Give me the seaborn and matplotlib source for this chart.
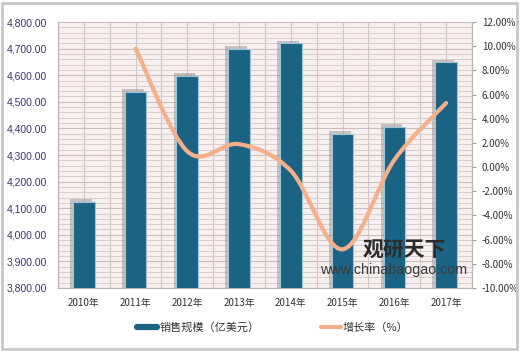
import numpy as np
import pandas as pd
import matplotlib
matplotlib.use("Agg")
import matplotlib.pyplot as plt
import matplotlib.patheffects as pe
from matplotlib.path import Path
from matplotlib.patches import PathPatch, Rectangle
from matplotlib.lines import Line2D
from matplotlib.ticker import MultipleLocator, FuncFormatter
import seaborn as sns

# 数据
years = ["2010年", "2011年", "2012年", "2013年", "2014年", "2015年", "2016年", "2017年"]
sales = [4124, 4538, 4598, 4698, 4720, 4378, 4406, 4648]   # 销售规模（亿美元）
growth_years = years[1:]
growth = [9.8, 1.3, 1.9, -0.3, -6.8, 0.6, 5.3]             # 增长率（%）

bar_color = "#1a6385"
line_color = "#f5b08a"
cjk = ["Noto Sans CJK SC", "DejaVu Sans"]

sns.set_style("white")
plt.rcParams["font.family"] = cjk

fig = plt.figure(figsize=(5.2, 3.51), dpi=100)
ax = fig.add_axes([0.1115, 0.1795, 0.7962, 0.7578])
ax.set_facecolor("#f8efef")

df = pd.DataFrame({"year": years, "sales": sales})
sns.barplot(data=df, x="year", y="sales", color=bar_color, width=0.42,
            edgecolor="#9cc4d6", linewidth=0.8, saturation=1, ax=ax, zorder=3)
for p in ax.patches:
    p.set_path_effects([pe.SimplePatchShadow(offset=(-2, 2), shadow_rgbFace="#8a8a8a", alpha=0.45),
                        pe.Normal()])

ax.set_ylim(3800, 4800)
ax.set_xlim(-0.5, len(years) - 0.5)
ax.yaxis.set_major_locator(MultipleLocator(100))
ax.yaxis.set_minor_locator(MultipleLocator(20))
ax.xaxis.set_minor_locator(MultipleLocator(0.5))
ax.grid(which="major", axis="y", color="#c9bfbf", lw=0.8, zorder=0)
ax.grid(which="minor", axis="y", color="#d6cdcd", lw=0.7, zorder=0)
ax.grid(which="both", axis="x", color="#cfc8c8", lw=0.8, zorder=0)
ax.set_axisbelow(True)
ax.yaxis.set_major_formatter(FuncFormatter(lambda v, _: f"{v:,.2f}"))
ax.tick_params(axis="y", which="both", length=0, pad=37, labelsize=7.5, labelcolor="#38386a")
ax.tick_params(axis="x", which="both", length=0, pad=7, labelsize=7, labelcolor="#333333")
for lab in ax.get_yticklabels():
    lab.set_fontfamily("Liberation Sans")
    lab.set_horizontalalignment("left")
ax.set_xlabel("")
ax.set_ylabel("")
ax.spines["top"].set_visible(False)
for s in ["left", "bottom", "right"]:
    ax.spines[s].set_color("#b5b5b5")
    ax.spines[s].set_linewidth(0.8)

# 增长率 右轴，平滑曲线
ax2 = ax.twinx()
ax2.set_ylim(-10, 12)
ax2.yaxis.set_major_locator(MultipleLocator(2))
ax2.yaxis.set_major_formatter(FuncFormatter(lambda v, _: f"{v:.2f}%"))
ax2.tick_params(axis="y", length=3, width=0.8, color="#999999", pad=4,
                labelsize=7, labelcolor="#333333")
for s in ["top", "left", "bottom"]:
    ax2.spines[s].set_visible(False)
ax2.spines["right"].set_color("#b5b5b5")
ax2.spines["right"].set_linewidth(0.8)
ax2.grid(False)

xs = np.array([years.index(y) for y in growth_years], dtype=float)
ys = np.array(growth, dtype=float)
verts = [(xs[0], ys[0])]
codes = [Path.MOVETO]
n = len(xs)
for i in range(n - 1):
    p0 = np.array([xs[max(i - 1, 0)], ys[max(i - 1, 0)]])
    p1 = np.array([xs[i], ys[i]])
    p2 = np.array([xs[i + 1], ys[i + 1]])
    p3 = np.array([xs[min(i + 2, n - 1)], ys[min(i + 2, n - 1)]])
    c1 = p1 + (p2 - p0) / 6
    c2 = p2 - (p3 - p1) / 6
    verts += [tuple(c1), tuple(c2), tuple(p2)]
    codes += [Path.CURVE4] * 3
ax2.add_patch(PathPatch(Path(verts, codes), facecolor="none", edgecolor=line_color,
                        lw=3, capstyle="round", zorder=5))

# 水印
fig.text(0.698, 0.318, "观研天下", fontsize=15, fontweight="bold", color="#2b2b2b",
         family=cjk, va="top", zorder=10)
fig.text(0.615, 0.252, "www.chinabaogao.com", fontsize=10.3, color="#3a3a3a",
         family=["Liberation Sans"], va="top", zorder=10)

# 图例
handles = [Line2D([], [], color=bar_color, lw=4.5),
           Line2D([], [], color=line_color, lw=3)]
fig.legend(handles, ["销售规模（亿美元）", "增长率（%）"], loc="center",
           bbox_to_anchor=(0.525, 0.068), ncol=2, frameon=False, fontsize=8,
           handlelength=1.8, handletextpad=0.2, columnspacing=5.5, labelcolor="#333333")

# 外框
fig.patches.append(Rectangle((0.004, 0.006), 0.99, 0.985, transform=fig.transFigure,
                             fill=False, edgecolor="#c8c8c8", lw=2))

fig.savefig("out.png", dpi=100)
